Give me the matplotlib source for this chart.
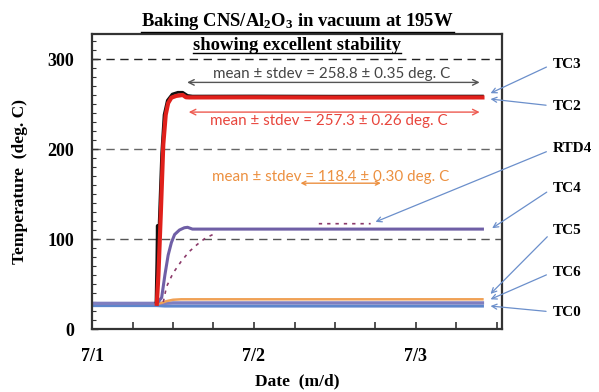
import numpy as np
import matplotlib
matplotlib.use('Agg')
import matplotlib.pyplot as plt
from matplotlib.lines import Line2D
from matplotlib.transforms import IdentityTransform

plt.rcParams['font.family'] = 'Liberation Serif'
plt.rcParams['mathtext.fontset'] = 'custom'
plt.rcParams['mathtext.bf'] = 'Liberation Serif:bold'
plt.rcParams['mathtext.rm'] = 'Liberation Serif:bold'
plt.rcParams['mathtext.default'] = 'bf'

# time in days after 7/1 00:00, temperature in deg C
t_tc3 = [0.395, 0.400, 0.403, 0.406, 0.415, 0.430, 0.445, 0.465, 0.495, 0.53, 0.56, 0.59, 0.62, 1.0, 1.5, 2.0, 2.41]
T_tc3 = [30, 75, 115, 60, 120, 195, 238, 254, 261, 263, 263, 259.5, 258.8, 258.9, 258.7, 258.8, 258.8]

t_tc2 = [0.400, 0.410, 0.425, 0.440, 0.455, 0.470, 0.490, 0.520, 0.560, 0.580, 0.60, 1.0, 1.5, 2.0, 2.41]
T_tc2 = [28, 60, 130, 205, 238, 251, 257, 259, 260, 257.5, 257.3, 257.4, 257.2, 257.3, 257.3]

t_tc4 = [0.40, 0.43, 0.45, 0.47, 0.49, 0.51, 0.54, 0.57, 0.59, 0.62, 1.0, 1.5, 2.0, 2.41]
T_tc4 = [28, 35, 60, 82, 96, 105, 110, 112.5, 113, 111, 111, 111, 111, 111]

t_rtd4 = [0.44, 0.46, 0.50, 0.55, 0.60, 0.65, 0.70, 0.77, 1.0, 1.40, 1.72]
T_rtd4 = [30, 47, 62, 75, 86, 94, 101, 107, np.nan, 117, 117]

t_tc5 = [0.40, 0.43, 0.46, 0.50, 0.55, 1.0, 1.5, 2.0, 2.41]
T_tc5 = [28, 29, 31, 32.5, 33, 33, 33, 33, 33]

t_tc6 = [0.0, 0.40, 0.45, 0.50, 1.0, 1.5, 2.0, 2.41]
T_tc6 = [28.5, 28.5, 28.5, 29, 29, 29, 29, 29]

t_tc0 = [0.0, 0.40, 0.45, 0.50, 1.0, 1.5, 2.0, 2.41]
T_tc0 = [26, 26, 25.5, 25.5, 25.5, 25.5, 25.5, 25.5]

date_ticks = [0, 1, 2]
date_labels = ['7/1', '7/2', '7/3']
temp_ticks = [0, 100, 200, 300]

# label name, arrow target (day, deg C), label pixel position (x, y from top)
labels = ['TC3', 'TC2', 'RTD4', 'TC4', 'TC5', 'TC6', 'TC0']
label_xy = [(2.46, 262), (2.46, 255.5), (1.75, 119), (2.47, 112), (2.46, 39), (2.46, 33), (2.46, 25.5)]
label_px = [(553, 64), (553, 106), (553, 149), (553, 188), (553, 231), (553, 272), (553, 312)]

fig = plt.figure(figsize=(5.99, 3.92), dpi=100)
ax = fig.add_axes([92 / 599, 63 / 392, 410 / 599, 295 / 392])

for yv, c in zip([100, 200, 300], ['#555555', '#666666', '#222222']):
    ax.axhline(yv, color=c, lw=1.0, ls=(0, (6, 4)), zorder=1)

ax.plot(t_tc0, T_tc0, color='#5d86cc', lw=2.2, zorder=2)
ax.plot(t_tc6, T_tc6, color='#7e7ec0', lw=2.4, zorder=2)
ax.plot(t_tc5, T_tc5, color='#f0a155', lw=1.8, zorder=3)
ax.plot(t_rtd4, T_rtd4, color='#8c3a6a', lw=1.2, ls=(0, (2, 3)), zorder=3)
ax.plot(t_tc4, T_tc4, color='#6f5fa6', lw=2.2, zorder=4)
ax.plot(t_tc3, T_tc3, color='#111111', lw=2.0, zorder=5)
ax.plot(t_tc2, T_tc2, color='#e0201b', lw=3.0, zorder=6)

ax.set_xlim(0, 410 / 162)
ax.set_ylim(0, 295 / 0.9)
ax.set_xticks(date_ticks)
ax.set_xticklabels(date_labels)
ax.set_xticks(np.arange(0, 2.6, 0.25), minor=True)
ax.set_yticks(temp_ticks)
ax.set_yticks(np.arange(0, 330, 10), minor=True)
ax.tick_params(axis='both', which='both', direction='in', top=False, right=False,
               colors='#333333', labelcolor='black')
ax.tick_params(axis='x', which='major', length=5, width=1.2, pad=14, labelsize=13)
ax.tick_params(axis='x', which='minor', length=5, width=1.2)
ax.tick_params(axis='y', which='major', length=4, width=1.0, pad=13, labelsize=13)
ax.tick_params(axis='y', which='minor', length=3, width=0.8)
for lab in ax.get_xticklabels() + ax.get_yticklabels():
    lab.set_fontweight('bold')
for s in ax.spines.values():
    s.set_linewidth(1.6)
    s.set_color('#333333')

ax.set_xlabel('Date  (m/d)', fontsize=12.5, fontweight='bold', labelpad=6)
ax.set_ylabel('Temperature  (deg. C)', fontsize=12.5, fontweight='bold', labelpad=14)

t1 = fig.text(0.497, 1 - 22 / 392, 'Baking CNS/Al$_2$O$_3$ in vacuum at 195W',
              ha='center', va='center', fontsize=13.4, fontweight='bold')
t2 = fig.text(0.496, 1 - 45 / 392, 'showing excellent stability',
              ha='center', va='center', fontsize=13.4, fontweight='bold')

sans = 'Lato'
arrow_kw = dict(arrowstyle='<->', lw=1.0, mutation_scale=10)
ax.annotate('', xy=(0.57, 274), xytext=(2.41, 274),
            arrowprops=dict(color='#555555', **arrow_kw))
ax.text(1.48, 283, 'mean \u00b1 stdev = 258.8 \u00b1 0.35 deg. C', color='#444444',
        ha='center', va='center', fontsize=10.9, family=sans)
ax.annotate('', xy=(0.58, 241), xytext=(2.41, 241),
            arrowprops=dict(color='#ee5a50', **arrow_kw))
ax.text(1.46, 231, 'mean \u00b1 stdev = 257.3 \u00b1 0.26 deg. C', color='#e8453c',
        ha='center', va='center', fontsize=10.9, family=sans)
ax.text(1.47, 169, 'mean \u00b1 stdev = 118.4 \u00b1 0.30 deg. C', color='#ec9040',
        ha='center', va='center', fontsize=10.9, family=sans)
ax.annotate('', xy=(1.27, 162), xytext=(1.80, 162),
            arrowprops=dict(color='#ec9040', arrowstyle='<->', lw=1.0, mutation_scale=7))

for name, xy, (px, py) in zip(labels, label_xy, label_px):
    ax.annotate(name, xy=xy, xytext=(px / 599, 1 - py / 392), textcoords='figure fraction',
                ha='left', va='center', fontsize=11, fontweight='bold',
                annotation_clip=False,
                arrowprops=dict(arrowstyle='->', color='#6b8fcb', lw=0.9,
                                relpos=(0, 0.5), shrinkA=3, shrinkB=0, mutation_scale=9))

# underline the two title lines
fig.canvas.draw()
r = fig.canvas.get_renderer()
for tt in (t1, t2):
    bb = tt.get_window_extent(r)
    fig.add_artist(Line2D([bb.x0, bb.x1], [bb.y0 + 1, bb.y0 + 1], color='black', lw=1.0,
                          transform=IdentityTransform()))

fig.savefig('out.png', dpi=100)
